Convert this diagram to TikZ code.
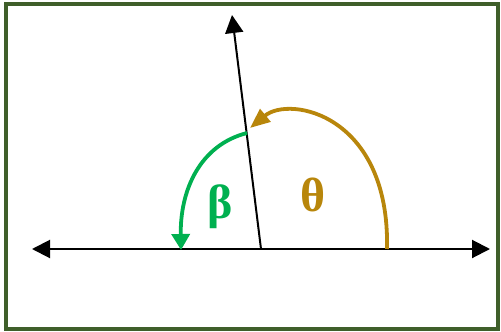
\documentclass[tikz,border=0pt]{standalone}
\usepackage{fontspec}
\setmainfont{Liberation Serif}
\usetikzlibrary{arrows.meta}
\definecolor{framegreen}{HTML}{3F5F2A}
\definecolor{thetagold}{HTML}{B8860B}
\definecolor{betagreen}{HTML}{00B050}

\begin{document}
\begin{tikzpicture}[x=0.5pt,y=-0.5pt,
  axis/.style={line width=1pt},
  tip/.style={-{Triangle[length=9pt,width=9pt]}},
  anglearc/.style={line width=1.9pt},
  anglelabel/.style={font=\fontsize{24}{28}\selectfont\bfseries}]
  \useasboundingbox (0,0) rectangle (501,331);
  \draw[framegreen, line width=2pt] (6,4) rectangle (498,329);

  \coordinate (O) at (261,249);
  \coordinate (L) at (32,249);
  \coordinate (R) at (490,249);
  \coordinate (U) at (232,15);
  \coordinate (T0) at (387,249);
  \coordinate (T1) at (250,128);
  \coordinate (B0) at (247,133);
  \coordinate (B1) at (181,250);

  \draw[axis, {Triangle[length=9pt,width=9pt]}-{Triangle[length=9pt,width=9pt]}] (L) -- (R);
  \draw[axis, tip] (O) -- (U);

  % angles
  \draw[anglearc, thetagold, -{Triangle[length=10pt,width=8pt]}]
    (T0) .. controls (390,115) and (290,95) .. (T1);
  \draw[anglearc, betagreen, -{Triangle[length=8pt,width=9pt]}]
    (B0) .. controls (200,145) and (180,190) .. (B1);

  \node[anglelabel, text=betagreen] (beta) at (220,207) {β};
  \node[anglelabel, text=thetagold] (theta) at (313,195) {θ};
\end{tikzpicture}
\end{document}
